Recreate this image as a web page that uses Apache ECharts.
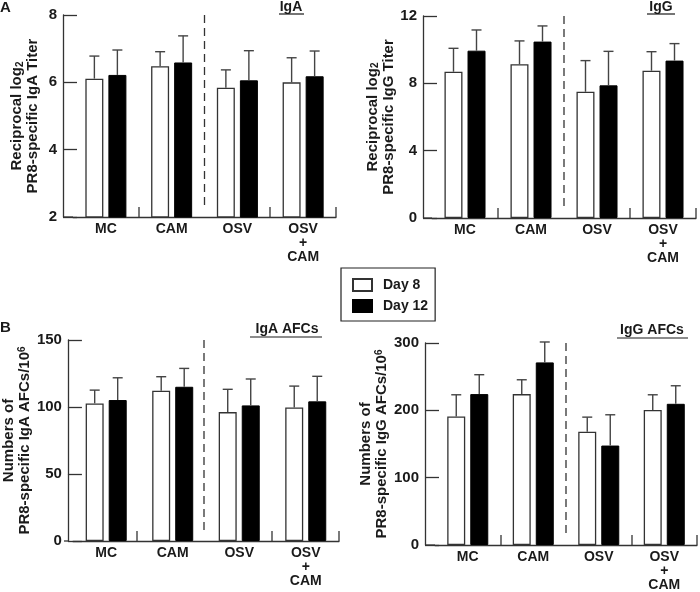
<!DOCTYPE html>
<html>
<head>
<meta charset="utf-8">
<script src="https://cdn.jsdelivr.net/npm/echarts@6/dist/echarts.min.js"></script>
<style>
  html, body { margin: 0; padding: 0; background: #fff; }
  #chart { width: 700px; height: 592px; }
</style>
</head>
<body>
<div id="chart"></div>
<script>
const groups = ['MC', 'CAM', 'OSV', 'OSV\n+\nCAM'];
const dayNames = ['Day 8', 'Day 12'];

// A: IgA titer (reciprocal log2), mean and SD
const igaDay8 = [6.11, 6.48, 5.84, 6.00];
const igaDay8Sd = [0.67, 0.43, 0.53, 0.73];
const igaDay12 = [6.22, 6.59, 6.06, 6.18];
const igaDay12Sd = [0.74, 0.79, 0.88, 0.75];

// A: IgG titer
const iggDay8 = [8.69, 9.13, 7.50, 8.75];
const iggDay8Sd = [1.39, 1.39, 1.85, 1.13];
const iggDay12 = [9.94, 10.48, 7.88, 9.35];
const iggDay12Sd = [1.23, 0.93, 2.02, 1.01];

// B: IgA AFCs per 10^6
const igaAfcDay8 = [102.7, 112.1, 96.2, 99.7];
const igaAfcDay8Sd = [9.9, 10.5, 17.0, 15.9];
const igaAfcDay12 = [105.2, 115.1, 101.2, 104.2];
const igaAfcDay12Sd = [16.6, 13.7, 19.7, 18.7];

// B: IgG AFCs per 10^6
const iggAfcDay8 = [190.8, 224.1, 168.1, 200.4];
const iggAfcDay8Sd = [32.3, 21.3, 21.8, 22.7];
const iggAfcDay12 = [224.1, 271.2, 147.7, 209.7];
const iggAfcDay12Sd = [28.8, 30.3, 45.7, 26.8];

const FONT = 'Liberation Sans';
const INK = '#1a1a1a';
const LINE = '#333';
const BAR_W = 18;
const SHIFT = 11.5; // half of (bar width + gap)

const panels = [
  { d8: igaDay8, s8: igaDay8Sd, d12: igaDay12, s12: igaDay12Sd,
    grid: { left: 73, top: 15, width: 263, height: 202 }, offset: 10,
    min: 2, max: 8, interval: 2, nameGap: 22,
    name: '{t|Reciprocal log}{sub|2}\n{t|PR8-specific IgA Titer}' },
  { d8: iggDay8, s8: iggDay8Sd, d12: iggDay12, s12: iggDay12Sd,
    grid: { left: 432, top: 16, width: 264, height: 202 }, offset: 9,
    min: 0, max: 12, interval: 4, nameGap: 23,
    name: '{t|Reciprocal log}{sub|2}\n{t|PR8-specific IgG Titer}' },
  { d8: igaAfcDay8, s8: igaAfcDay8Sd, d12: igaAfcDay12, s12: igaAfcDay12Sd,
    grid: { left: 69, top: 340, width: 270, height: 201 }, offset: 5,
    min: 0, max: 150, interval: 50, nameGap: 31,
    name: '{t|Numbers of}\n{t|PR8-specific IgA AFCs/10}{sup|6}' },
  { d8: iggAfcDay8, s8: iggAfcDay8Sd, d12: iggAfcDay12, s12: iggAfcDay12Sd,
    grid: { left: 435, top: 343, width: 262, height: 202 }, offset: 10,
    min: 0, max: 300, interval: 100, nameGap: 32,
    name: '{t|Numbers of}\n{t|PR8-specific IgG AFCs/10}{sup|6}' }
];

function errorSeries(i, mean, sd, shift) {
  return {
    type: 'custom',
    xAxisIndex: i, yAxisIndex: i,
    z: 3,
    encode: { x: 0, y: [1, 2] },
    data: mean.map((m, k) => [k, m + sd[k], m]),
    renderItem: (params, api) => {
      const top = api.coord([api.value(0), api.value(1)]);
      const base = api.coord([api.value(0), api.value(2)]);
      const x = top[0] + shift;
      const st = { stroke: '#444', lineWidth: 1.4 };
      return {
        type: 'group',
        children: [
          { type: 'line', shape: { x1: x, y1: base[1], x2: x, y2: top[1] }, style: st },
          { type: 'line', shape: { x1: x - 5, y1: top[1], x2: x + 5, y2: top[1] }, style: st }
        ]
      };
    }
  };
}

const nameRich = {
  t: { fontFamily: FONT, fontWeight: 'bold', fontSize: 15, lineHeight: 16, color: INK },
  sub: { fontFamily: FONT, fontWeight: 'bold', fontSize: 10, lineHeight: 16, verticalAlign: 'bottom', color: INK },
  sup: { fontFamily: FONT, fontWeight: 'bold', fontSize: 10, lineHeight: 16, verticalAlign: 'top', color: INK }
};

const grids = [], xAxes = [], yAxes = [], series = [], graphics = [];

panels.forEach((p, i) => {
  grids.push(p.grid);
  xAxes.push({
    type: 'category', gridIndex: i, data: groups,
    axisLine: { lineStyle: { color: LINE, width: 1.3 } },
    axisTick: { show: false },
    axisLabel: { interval: 0, margin: 5, color: INK, fontFamily: FONT, fontWeight: 'bold',
      fontSize: 14, lineHeight: 14 }
  });
  yAxes.push({
    type: 'value', gridIndex: i, min: p.min, max: p.max, interval: p.interval,
    offset: p.offset,
    axisLine: { show: true, lineStyle: { color: LINE, width: 1.3 } },
    axisTick: { show: true, inside: true, length: 14, lineStyle: { color: LINE, width: 1.3 } },
    splitLine: { show: false },
    axisLabel: { margin: 6, color: INK, fontFamily: FONT, fontWeight: 'bold', fontSize: 15 },
    name: p.name, nameLocation: 'middle', nameGap: p.nameGap,
    nameTextStyle: {
      color: INK, fontFamily: FONT, fontWeight: 'bold', fontSize: 15, lineHeight: 16,
      rich: nameRich
    }
  });
  series.push({
    type: 'bar', name: dayNames[0], xAxisIndex: i, yAxisIndex: i,
    barWidth: BAR_W, barGap: '28%', data: p.d8,
    itemStyle: { color: '#fff', borderColor: LINE, borderWidth: 1.3 }
  });
  series.push({
    type: 'bar', name: dayNames[1], xAxisIndex: i, yAxisIndex: i,
    barWidth: BAR_W, barGap: '28%', data: p.d12,
    itemStyle: { color: '#000', borderColor: '#000', borderWidth: 1 }
  });
  series.push(errorSeries(i, p.d8, p.s8, -SHIFT));
  series.push(errorSeries(i, p.d12, p.s12, SHIFT));

  // decorations: x axis line reaching the y axis, group ticks, dashed separator
  const g = p.grid, bottom = g.top + g.height;
  graphics.push({ type: 'line', shape: { x1: g.left - p.offset, y1: bottom, x2: g.left, y2: bottom },
    style: { stroke: LINE, lineWidth: 1.3 } });
  [1, 3, 4].forEach(k => {
    const xt = Math.round(g.left + g.width * k / groups.length);
    graphics.push({ type: 'line', shape: { x1: xt, y1: bottom - 10, x2: xt, y2: bottom },
      style: { stroke: LINE, lineWidth: 1.3 } });
  });
  const xm = g.left + g.width / 2;
  graphics.push({ type: 'line', shape: { x1: xm, y1: g.top, x2: xm, y2: bottom - 9 },
    style: { stroke: '#333', lineWidth: 1.3, lineDash: [8, 5] } });
});

// underlines of the panel titles
[[279, 304, 14], [647, 675, 14], [250, 322, 337], [617, 688, 338]].forEach(u => {
  graphics.push({ type: 'line', shape: { x1: u[0], y1: u[2], x2: u[1], y2: u[2] },
    style: { stroke: INK, lineWidth: 1.2 } });
});

const tStyle = { color: INK, fontFamily: FONT, fontWeight: 'bold', fontSize: 14 };
const titles = [
  { text: 'A', left: 0, top: 0, padding: 0, textStyle: Object.assign({}, tStyle, { fontSize: 15 }) },
  { text: 'B', left: 0, top: 320, padding: 0, textStyle: Object.assign({}, tStyle, { fontSize: 15 }) },
  { text: 'IgA', left: 291, top: 0, padding: 0, textAlign: 'center', textStyle: tStyle },
  { text: 'IgG', left: 661, top: 0, padding: 0, textAlign: 'center', textStyle: tStyle },
  { text: 'IgA AFCs', left: 287, top: 322, padding: 0, textAlign: 'center', textStyle: tStyle },
  { text: 'IgG AFCs', left: 652, top: 323, padding: 0, textAlign: 'center', textStyle: tStyle }
];

const chart = echarts.init(document.getElementById('chart'), null, { renderer: 'canvas' });
chart.setOption({
  animation: false,
  backgroundColor: '#fff',
  title: titles,
  legend: {
    data: dayNames, orient: 'vertical', left: 341, top: 268,
    padding: [10, 7, 8, 11], itemGap: 7, itemWidth: 19, itemHeight: 12,
    borderColor: '#222', borderWidth: 1.2, borderRadius: 0,
    icon: 'rect',
    textStyle: { color: INK, fontFamily: FONT, fontWeight: 'bold', fontSize: 14, padding: [0, 0, 0, 6] }
  },
  grid: grids,
  xAxis: xAxes,
  yAxis: yAxes,
  series: series,
  graphic: graphics
});
</script>
</body>
</html>
